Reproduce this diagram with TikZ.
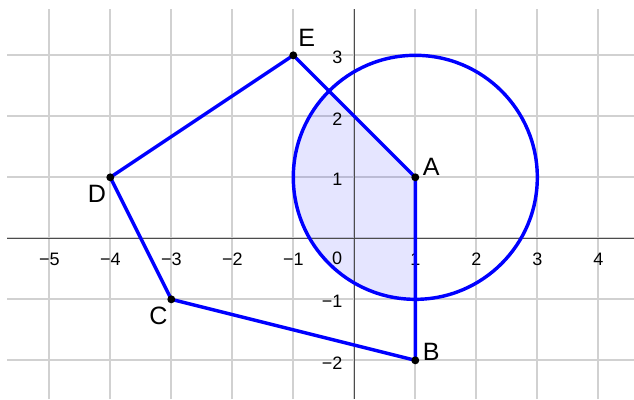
\documentclass[tikz,border=0pt]{standalone}
\usepackage{fontspec}
\setmainfont{Liberation Sans}
\usetikzlibrary{calc}

\begin{document}
\begin{tikzpicture}[
    gridline/.style={draw=black!18, line width=0.8pt},
    axis/.style={draw=black!70, line width=0.7pt},
    edge/.style={draw=blue, line width=1.6pt, line join=round},
    sector/.style={fill=blue, fill opacity=0.1},
    dot/.style={circle, fill=black, inner sep=0pt, minimum size=0.13cm},
    tick/.style={font=\fontsize{8.4}{10}\selectfont, inner sep=0pt},
    ptlabel/.style={font=\fontsize{11.7}{13}\selectfont, inner sep=0pt}
]
\useasboundingbox (-5.808,-2.634) rectangle (4.585,3.907);

% Grid
\draw[gridline] (-5.693,-2.634) grid (4.585,3.759);

% Points
\coordinate (A) at (1,1);
\coordinate (B) at (1,-2);
\coordinate (C) at (-3,-1);
\coordinate (D) at (-4,1);
\coordinate (E) at (-1,3);

% Shaded sector
\fill[sector] (A) -- ++(135:2) arc[start angle=135, end angle=270, radius=2] -- cycle;

% Axes
\draw[axis] (-5.693,0) -- (4.585,0);
\draw[axis] (0,3.759) -- (0,-2.634);

% Tick labels
\foreach \x in {1,...,5}
    \node[tick] (xn\x) at (-\x,-0.34) {−\x};
\foreach \x in {1,...,4}
    \node[tick] (xp\x) at (\x,-0.34) {\x};
\foreach \y in {1,2,3}
    \node[tick, anchor=east] (yp\y) at (-0.19,\y-0.04) {\y};
\foreach \y in {1,2}
    \node[tick, anchor=east] (yn\y) at (-0.19,-\y-0.04) {−\y};
\node[tick] (origin) at (-0.28,-0.33) {0};

% Pentagon and circle
\draw[edge] (A) -- (B) -- (C) -- (D) -- (E) -- cycle;
\draw[edge] (A) circle[radius=2];

% Vertices
\foreach \p in {A,B,C,D,E}
    \node[dot] (dot\p) at (\p) {};

% Vertex labels
\node[ptlabel] (labA) at ($(A)+(0.26,0.17)$) {A};
\node[ptlabel] (labB) at ($(B)+(0.26,0.14)$) {B};
\node[ptlabel] (labC) at ($(C)+(-0.21,-0.27)$) {C};
\node[ptlabel] (labD) at ($(D)+(-0.22,-0.27)$) {D};
\node[ptlabel] (labE) at ($(E)+(0.22,0.29)$) {E};

\end{tikzpicture}
\end{document}
